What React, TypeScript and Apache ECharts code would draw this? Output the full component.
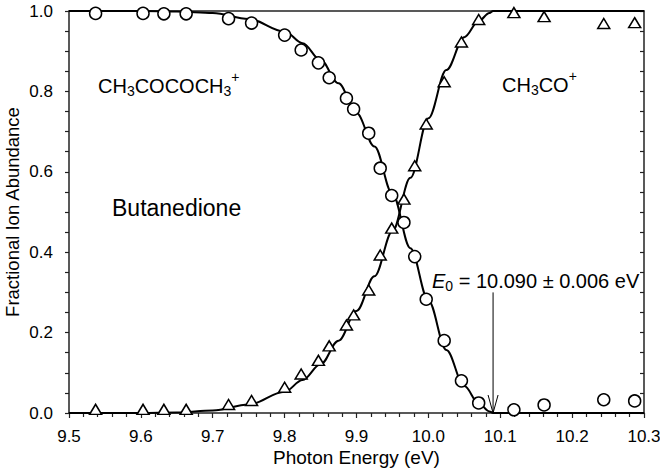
import React, { useEffect, useRef } from "react";
import * as echarts from "echarts";

const FONT = "'Liberation Sans', Arial, Helvetica, sans-serif";

// Measured points (photon energy in eV)
const pointEnergy = [
  9.537, 9.603, 9.632, 9.663, 9.722, 9.754, 9.8, 9.823, 9.847, 9.862, 9.886, 9.896, 9.917,
  9.933, 9.949, 9.966, 9.981, 9.997, 10.022, 10.046, 10.07, 10.119, 10.161, 10.244, 10.287,
];
// CH3COCOCH3+ (parent ion) fractional abundance
const parentAbundance = [
  0.994, 0.994, 0.993, 0.993, 0.981, 0.97, 0.94, 0.903, 0.871, 0.834, 0.783, 0.756, 0.696,
  0.609, 0.541, 0.474, 0.389, 0.283, 0.18, 0.08, 0.025, 0.008, 0.02, 0.033, 0.03,
];
// CH3CO+ (fragment ion) fractional abundance
const fragmentAbundance = [
  0.009, 0.009, 0.009, 0.009, 0.021, 0.031, 0.064, 0.097, 0.131, 0.167, 0.219, 0.244, 0.306,
  0.393, 0.46, 0.532, 0.615, 0.719, 0.824, 0.923, 0.979, 0.996, 0.986, 0.969, 0.971,
];

// Fitted breakdown curves
const fitEnergy = [
  9.5, 9.6, 9.65, 9.7, 9.75, 9.8, 9.825, 9.85, 9.875, 9.9, 9.925, 9.95, 9.975, 10.0, 10.025,
  10.05, 10.07, 10.085, 10.09, 10.2, 10.3,
];
const parentFit = [
  1.0, 1.0, 0.999, 0.995, 0.98, 0.949, 0.92, 0.878, 0.82, 0.746, 0.663, 0.545, 0.41, 0.28,
  0.157, 0.067, 0.024, 0.004, 0.0, 0.0, 0.0,
];
const fragmentFit = [
  0.0, 0.0, 0.001, 0.006, 0.021, 0.053, 0.082, 0.121, 0.18, 0.254, 0.34, 0.452, 0.585, 0.733,
  0.853, 0.935, 0.975, 0.995, 1.0, 1.0, 1.0,
];

// Axis ranges
const X_MIN = 9.5;
const X_MAX = 10.3;
const X_STEP = 0.1;
const Y_MIN = 0;
const Y_MAX = 1;
const Y_STEP = 0.2;

// 0 K appearance energy and its uncertainty
const E0 = 10.09;
const E0_ERR = 0.006;
const ARROW_TOP = 0.3;

const AXIS_COLOR = "#222";

export default function App() {
  const ref = useRef<HTMLDivElement>(null);

  useEffect(() => {
    document.body.style.margin = "0";
    const chart = echarts.init(ref.current!, null, { renderer: "svg" });
    const zip = (xs: number[], ys: number[]) => xs.map((x, i) => [x, ys[i]]);

    const lineStyle = { color: AXIS_COLOR, width: 1.5 };
    const tickLine = { color: AXIS_COLOR, width: 1.2 };

    // Chemical formula styles: a tall line box so the superscript sits high and the subscript drops low
    const richMain = { fontSize: 20, fontFamily: FONT, fill: "#000", lineHeight: 32 };
    const richSub = {
      fontSize: 14,
      fontFamily: FONT,
      fill: "#000",
      verticalAlign: "bottom",
      padding: [0, 0, 4, 0],
    };
    const richSup = { fontSize: 14, fontFamily: FONT, fill: "#000", verticalAlign: "top" };

    chart.setOption({
      animation: false,
      backgroundColor: "#fff",
      textStyle: { fontFamily: FONT },
      grid: { left: 69, right: 16, top: 11, bottom: 62, outerBoundsMode: "none", containLabel: false },
      xAxis: [
        {
          type: "value",
          position: "bottom",
          min: X_MIN,
          max: X_MAX,
          interval: X_STEP,
          name: "Photon Energy (eV)",
          nameLocation: "middle",
          nameGap: 35,
          nameMoveOverlap: false,
          nameTextStyle: { fontSize: 19, color: "#000", fontFamily: FONT },
          axisLine: { show: true, onZero: false, lineStyle },
          axisTick: { show: true, inside: false, length: 5, lineStyle: tickLine },
          minorTick: { show: true, splitNumber: 5, length: 4, lineStyle: tickLine },
          axisLabel: {
            fontSize: 17,
            color: "#000",
            fontFamily: FONT,
            margin: 15,
            formatter: (v: number) => v.toFixed(1),
          },
          splitLine: { show: false },
        },
        {
          type: "value",
          position: "top",
          min: X_MIN,
          max: X_MAX,
          axisLine: { show: true, onZero: false, lineStyle },
          axisTick: { show: false },
          axisLabel: { show: false },
          splitLine: { show: false },
        },
      ],
      yAxis: [
        {
          type: "value",
          position: "left",
          min: Y_MIN,
          max: Y_MAX,
          interval: Y_STEP,
          name: "Fractional Ion Abundance",
          nameLocation: "middle",
          nameGap: 47,
          nameMoveOverlap: false,
          nameTextStyle: { fontSize: 18.5, color: "#000", fontFamily: FONT },
          axisLine: { show: true, onZero: false, lineStyle },
          axisTick: { show: true, inside: false, length: 4, lineStyle: tickLine },
          minorTick: { show: true, splitNumber: 4, length: 4, lineStyle: tickLine },
          axisLabel: {
            fontSize: 17,
            color: "#000",
            fontFamily: FONT,
            margin: 16,
            formatter: (v: number) => v.toFixed(1),
          },
          splitLine: { show: false },
        },
        {
          type: "value",
          position: "right",
          min: Y_MIN,
          max: Y_MAX,
          interval: Y_STEP,
          axisLine: { show: true, onZero: false, lineStyle },
          axisTick: { show: true, inside: true, length: 4, lineStyle: tickLine },
          minorTick: { show: true, splitNumber: 4, length: 4, lineStyle: tickLine },
          axisLabel: { show: false },
          splitLine: { show: false },
        },
      ],
      series: [
        {
          name: "parent fit",
          type: "line",
          data: zip(fitEnergy, parentFit),
          smooth: 0.35,
          smoothMonotone: "x",
          showSymbol: false,
          symbol: "none",
          lineStyle: { color: "#000", width: 2 },
          z: 2,
          silent: true,
        },
        {
          name: "fragment fit",
          type: "line",
          data: zip(fitEnergy, fragmentFit),
          smooth: 0.35,
          smoothMonotone: "x",
          showSymbol: false,
          symbol: "none",
          lineStyle: { color: "#000", width: 2 },
          z: 2,
          silent: true,
        },
        {
          name: "CH3COCOCH3+",
          type: "scatter",
          data: zip(pointEnergy, parentAbundance),
          symbol: "circle",
          symbolSize: 12,
          itemStyle: { color: "#fff", borderColor: "#000", borderWidth: 1.5, opacity: 1 },
          z: 4,
          clip: false,
        },
        {
          name: "CH3CO+",
          type: "scatter",
          data: zip(pointEnergy, fragmentAbundance),
          symbol: "triangle",
          symbolSize: [12, 10],
          itemStyle: { color: "#fff", borderColor: "#000", borderWidth: 1.5, opacity: 1 },
          z: 4,
          clip: false,
        },
        {
          name: "E0 arrow",
          type: "custom",
          coordinateSystem: "cartesian2d",
          data: [[E0, ARROW_TOP, 0]],
          silent: true,
          clip: false,
          z: 5,
          renderItem: (_params: any, api: any) => {
            const top = api.coord([api.value(0), api.value(1)]);
            const tip = api.coord([api.value(0), api.value(2)]);
            return {
              type: "group",
              children: [
                {
                  type: "line",
                  shape: { x1: top[0], y1: top[1], x2: tip[0], y2: tip[1] },
                  style: { stroke: "#000", lineWidth: 1 },
                },
                {
                  type: "polyline",
                  shape: {
                    points: [
                      [tip[0] - 5, tip[1] - 18],
                      [tip[0], tip[1]],
                      [tip[0] + 5, tip[1] - 18],
                    ],
                  },
                  style: { stroke: "#000", fill: "none", lineWidth: 1 },
                },
              ],
            };
          },
        },
      ],
      graphic: [
        {
          type: "text",
          x: 98,
          y: 86,
          style: {
            text: "{m|CH}{s|3}{m|COCOCH}{s|3}{p|+}",
            align: "left",
            verticalAlign: "middle",
            rich: { m: richMain, s: richSub, p: richSup },
          },
        },
        {
          type: "text",
          x: 502,
          y: 85,
          style: {
            text: "{m|CH}{s|3}{m|CO}{p|+}",
            align: "left",
            verticalAlign: "middle",
            rich: { m: richMain, s: richSub, p: richSup },
          },
        },
        {
          type: "text",
          x: 112,
          y: 208,
          style: {
            text: "Butanedione",
            font: `23px ${FONT}`,
            fill: "#000",
            align: "left",
            verticalAlign: "middle",
          },
        },
        {
          type: "text",
          x: 432,
          y: 281,
          style: {
            text: `{e|E}{s|0}{m| = ${E0.toFixed(3)} \u00b1 ${E0_ERR.toFixed(3)} eV}`,
            align: "left",
            verticalAlign: "middle",
            rich: {
              e: { ...richMain, fontStyle: "italic" },
              s: richSub,
              m: richMain,
            },
          },
        },
      ],
    });

    return () => chart.dispose();
  }, []);

  return <div ref={ref} style={{ width: 660, height: 475 }} />;
}
